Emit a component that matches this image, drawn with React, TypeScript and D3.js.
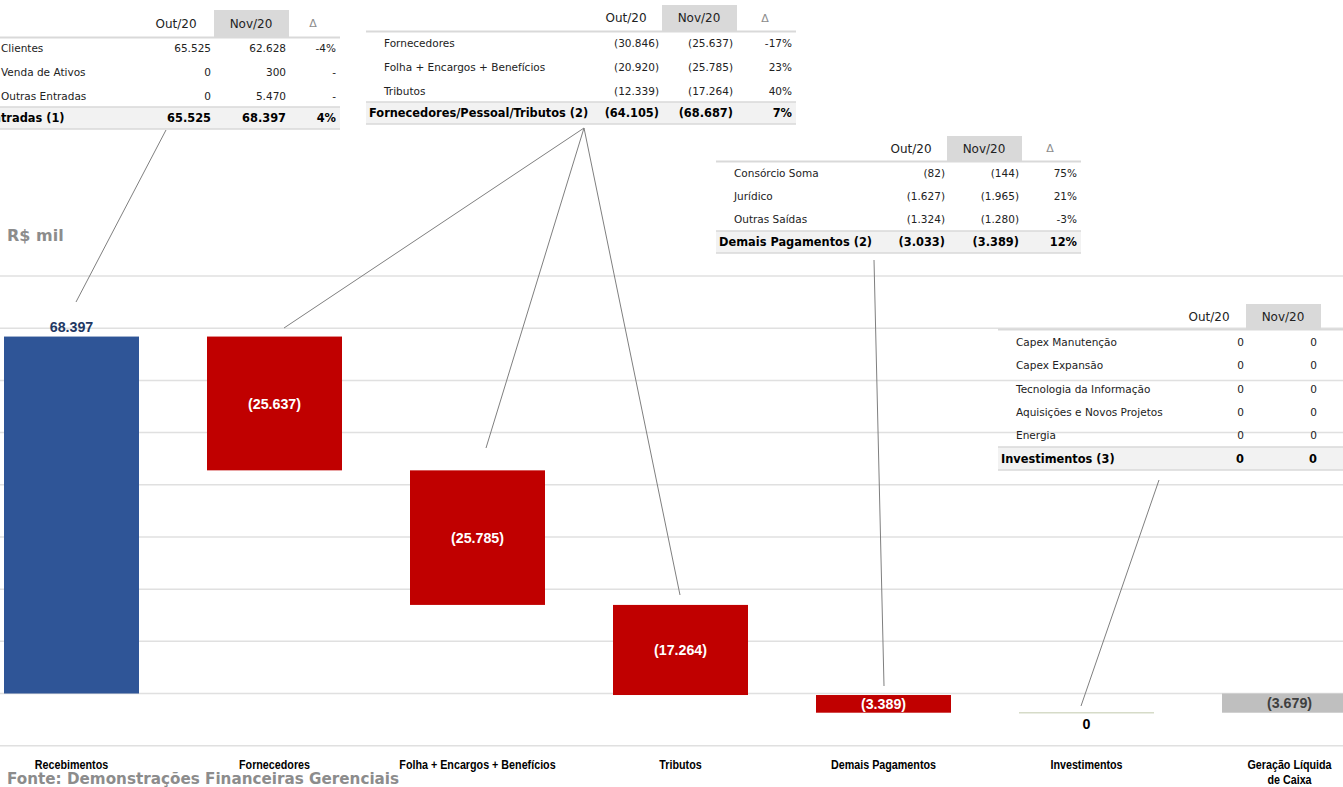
import React from "react";
import * as d3 from "d3";

// ---------- Data ----------
const categories = [
  "Recebimentos",
  "Fornecedores",
  "Folha + Encargos + Benefícios",
  "Tributos",
  "Demais Pagamentos",
  "Investimentos",
  "Geração Líquida de Caixa",
];
const values = [68397, -25637, -25785, -17264, -3389, 0, -3679];
const barKinds = ["total", "delta", "delta", "delta", "delta", "delta", "result"];
const yTicks = [-10000, 0, 10000, 20000, 30000, 40000, 50000, 60000, 70000, 80000];

const tableHeaders = ["Out/20", "Nov/20", "Δ"];

const entradasLabels = ["Clientes", "Venda de Ativos", "Outras Entradas"];
const entradasOut = [65525, 0, 0];
const entradasNov = [62628, 300, 5470];
const entradasDelta = ["-4%", "-", "-"];
const entradasTotal = { label: "Entradas (1)", out: 65525, nov: 68397, delta: "4%" };

const fornLabels = ["Fornecedores", "Folha + Encargos + Benefícios", "Tributos"];
const fornOut = [-30846, -20920, -12339];
const fornNov = [-25637, -25785, -17264];
const fornDelta = ["-17%", "23%", "40%"];
const fornTotal = { label: "Fornecedores/Pessoal/Tributos (2)", out: -64105, nov: -68687, delta: "7%" };

const demaisLabels = ["Consórcio Soma", "Jurídico", "Outras Saídas"];
const demaisOut = [-82, -1627, -1324];
const demaisNov = [-144, -1965, -1280];
const demaisDelta = ["75%", "21%", "-3%"];
const demaisTotal = { label: "Demais Pagamentos (2)", out: -3033, nov: -3389, delta: "12%" };

const invLabels = [
  "Capex Manutenção",
  "Capex Expansão",
  "Tecnologia da Informação",
  "Aquisições e Novos Projetos",
  "Energia",
];
const invOut = [0, 0, 0, 0, 0];
const invNov = [0, 0, 0, 0, 0];
const invTotal = { label: "Investimentos (3)", out: 0, nov: 0 };

// ---------- Formatting ----------
const locale = d3.formatLocale({ decimal: ",", thousands: ".", grouping: [3], currency: ["R$", ""] });
const fmtInt = locale.format(",.0f");
const fmtBR = (v: number) => (v < 0 ? `(${fmtInt(-v)})` : fmtInt(v));

const TABLE_FONT = "'DejaVu Sans', Verdana, sans-serif";
const NARROW_FONT = "'Liberation Sans', Arial, sans-serif";

const W = 1343;
const H = 787;

type TableLayout = {
  left: number;
  right: number;
  headerTop: number;
  headerBottom: number;
  rowStart: number;
  rowStep: number;
  totalTop: number;
  totalBottom: number;
  labelX: number;
  totalLabelX: number;
  colRight: number[];
  colHeader: number[];
  novBg: [number, number];
};

function DataTable(props: {
  layout: TableLayout;
  labels: string[];
  out: number[];
  nov: number[];
  delta?: string[];
  total: { label: string; out: number; nov: number; delta?: string };
}) {
  const { layout: L, labels, out, nov, delta, total } = props;
  const hasDelta = !!delta;
  const headerMid = (L.headerTop + L.headerBottom) / 2;
  const totalMid = (L.totalTop + L.totalBottom) / 2;
  const rowFs = 10.5;
  return (
    <g>
      <rect x={L.novBg[0]} y={L.headerTop} width={L.novBg[1] - L.novBg[0]} height={L.headerBottom - L.headerTop} fill="#d9d9d9" />
      {tableHeaders.slice(0, hasDelta ? 3 : 2).map((h, i) => (
        <text
          key={h}
          x={L.colHeader[i]}
          y={headerMid}
          textAnchor="middle"
          dominantBaseline="central"
          fontFamily={TABLE_FONT}
          fontSize={i === 2 ? 11 : 12}
          fill={i === 2 ? "#8c8c8c" : "#222"}
        >
          {h}
        </text>
      ))}
      <line x1={L.left} x2={L.right} y1={L.headerBottom + 0.5} y2={L.headerBottom + 0.5} stroke="#d9d9d9" strokeWidth={2} />
      {labels.map((lab, i) => {
        const y = L.rowStart + i * L.rowStep;
        return (
          <g key={lab} fontFamily={TABLE_FONT} fontSize={rowFs} fill="#222">
            <text x={L.labelX} y={y} dominantBaseline="central">{lab}</text>
            <text x={L.colRight[0]} y={y} textAnchor="end" dominantBaseline="central">{fmtBR(out[i])}</text>
            <text x={L.colRight[1]} y={y} textAnchor="end" dominantBaseline="central">{fmtBR(nov[i])}</text>
            {hasDelta && (
              <text x={L.colRight[2]} y={y} textAnchor="end" dominantBaseline="central">{delta![i]}</text>
            )}
          </g>
        );
      })}
      <rect x={L.left} y={L.totalTop} width={L.right - L.left} height={L.totalBottom - L.totalTop} fill="#f2f2f2" />
      <line x1={L.left} x2={L.right} y1={L.totalTop} y2={L.totalTop} stroke="#d9d9d9" strokeWidth={1.5} />
      <line x1={L.left} x2={L.right} y1={L.totalBottom} y2={L.totalBottom} stroke="#d9d9d9" strokeWidth={1.5} />
      <g fontFamily={TABLE_FONT} fontSize={11.4} fontWeight="bold" fill="#000">
        <text x={L.totalLabelX} y={totalMid} dominantBaseline="central">{total.label}</text>
        <text x={L.colRight[0]} y={totalMid} textAnchor="end" dominantBaseline="central">{fmtBR(total.out)}</text>
        <text x={L.colRight[1]} y={totalMid} textAnchor="end" dominantBaseline="central">{fmtBR(total.nov)}</text>
        {hasDelta && total.delta && (
          <text x={L.colRight[2]} y={totalMid} textAnchor="end" dominantBaseline="central">{total.delta}</text>
        )}
      </g>
    </g>
  );
}

export default function App() {
  const y = d3.scaleLinear().domain([-10000, 80000]).range([745.7, 276]);
  const step = 203;
  const pIn = 68 / 203;
  const x = d3
    .scaleBand<string>()
    .domain(categories)
    .range([4 - (pIn / 2) * step, 4 - (pIn / 2) * step + step * categories.length])
    .paddingInner(pIn)
    .paddingOuter(pIn / 2);
  const bw = x.bandwidth();

  // waterfall
  let cum = 0;
  const bars = categories.map((c, i) => {
    const v = values[i];
    const kind = barKinds[i];
    let start: number, end: number;
    if (kind === "total") {
      start = 0;
      end = v;
      cum = v;
    } else if (kind === "result") {
      start = 0;
      end = v;
    } else {
      start = cum;
      end = cum + v;
      cum = end;
    }
    return { c, v, kind, start, end };
  });

  const colors: Record<string, string> = { total: "#2f5597", delta: "#c00000", result: "#bfbfbf" };

  const t1: TableLayout = {
    left: -20, right: 340, headerTop: 10, headerBottom: 37, rowStart: 48, rowStep: 24,
    totalTop: 107, totalBottom: 129, labelX: 1, totalLabelX: -15,
    colRight: [211, 286, 336], colHeader: [176, 251, 313], novBg: [214, 289],
  };
  const t2: TableLayout = {
    left: 366, right: 796, headerTop: 5, headerBottom: 31, rowStart: 43, rowStep: 24,
    totalTop: 102, totalBottom: 124, labelX: 384, totalLabelX: 369,
    colRight: [659, 733, 792], colHeader: [626, 699, 765], novBg: [662, 737],
  };
  const t3: TableLayout = {
    left: 716, right: 1081, headerTop: 136, headerBottom: 161, rowStart: 173, rowStep: 23,
    totalTop: 231, totalBottom: 253, labelX: 734, totalLabelX: 719,
    colRight: [945, 1019, 1077], colHeader: [911, 984, 1050], novBg: [947, 1022],
  };
  const t4: TableLayout = {
    left: 998, right: 1350, headerTop: 304, headerBottom: 329, rowStart: 342, rowStep: 23.25,
    totalTop: 447, totalBottom: 470, labelX: 1016, totalLabelX: 1001,
    colRight: [1244, 1317], colHeader: [1209, 1283], novBg: [1246, 1321],
  };

  const connectors: [number, number, number, number][] = [
    [166, 130, 76, 302],
    [584, 128, 284, 328],
    [584, 128, 486, 448],
    [584, 128, 680, 595],
    [874, 260, 884, 686],
    [1159, 480, 1081, 706],
  ];

  return (
    <svg
      width={W}
      height={H}
      style={{ position: "absolute", left: 0, top: 0, background: "#fff" }}
    >
      {/* gridlines */}
      {yTicks.map((t) => (
        <line key={t} x1={0} x2={W} y1={y(t)} y2={y(t)} stroke="#e0e0e0" strokeWidth={1.5} />
      ))}

      {/* bars */}
      {bars.map((b) => {
        const x0 = x(b.c)!;
        const top = y(Math.max(b.start, b.end));
        const bot = y(Math.min(b.start, b.end));
        if (b.v === 0) {
          return (
            <line key={b.c} x1={x0} x2={x0 + bw} y1={y(b.end)} y2={y(b.end)} stroke="#d6dbc8" strokeWidth={1.5} />
          );
        }
        return <rect key={b.c} x={x0} y={top} width={bw} height={bot - top} fill={colors[b.kind]} />;
      })}

      {/* bar labels */}
      {bars.map((b) => {
        const cx = x(b.c)! + bw / 2;
        const top = y(Math.max(b.start, b.end));
        const bot = y(Math.min(b.start, b.end));
        let ty = (top + bot) / 2;
        let fill = "#fff";
        if (b.kind === "total") {
          ty = top - 10;
          fill = "#1f3864";
        } else if (b.kind === "result") {
          fill = "#404040";
        } else if (b.v === 0) {
          ty = y(b.end) + 11;
          fill = "#000";
        }
        return (
          <text
            key={b.c}
            transform={`translate(${cx},${ty}) scale(0.92,1)`}
            textAnchor="middle"
            dominantBaseline="central"
            fontFamily={NARROW_FONT}
            fontWeight="bold"
            fontSize={15.5}
            fill={fill}
          >
            {fmtBR(b.v)}
          </text>
        );
      })}

      {/* category labels */}
      {categories.map((c) => {
        const cx = x(c)! + bw / 2;
        const lines = c === "Geração Líquida de Caixa" ? ["Geração Líquida", "de Caixa"] : [c];
        return (
          <text
            key={c}
            transform={`translate(${cx},764) scale(0.86,1)`}
            textAnchor="middle"
            dominantBaseline="central"
            fontFamily={NARROW_FONT}
            fontWeight="bold"
            fontSize={12.5}
            fill="#000"
          >
            {lines.map((l, i) => (
              <tspan key={l} x={0} dy={i === 0 ? 0 : 15}>
                {l}
              </tspan>
            ))}
          </text>
        );
      })}

      {/* tables */}
      <DataTable layout={t1} labels={entradasLabels} out={entradasOut} nov={entradasNov} delta={entradasDelta} total={entradasTotal} />
      <DataTable layout={t2} labels={fornLabels} out={fornOut} nov={fornNov} delta={fornDelta} total={fornTotal} />
      <DataTable layout={t3} labels={demaisLabels} out={demaisOut} nov={demaisNov} delta={demaisDelta} total={demaisTotal} />
      <DataTable layout={t4} labels={invLabels} out={invOut} nov={invNov} total={invTotal} />

      {/* connectors */}
      {connectors.map(([a, b, c, d], i) => (
        <line key={i} x1={a} y1={b} x2={c} y2={d} stroke="#7f7f7f" strokeWidth={1} />
      ))}

      {/* titles */}
      <text x={7} y={235} dominantBaseline="central" fontFamily={TABLE_FONT} fontWeight="bold" fontSize={16} fill="#8c8c8c">
        R$ mil
      </text>
      <text x={7} y={779} dominantBaseline="central" fontFamily={TABLE_FONT} fontWeight="bold" fontSize={15.2} fill="#8c8c8c">
        Fonte: Demonstrações Financeiras Gerenciais
      </text>
    </svg>
  );
}
